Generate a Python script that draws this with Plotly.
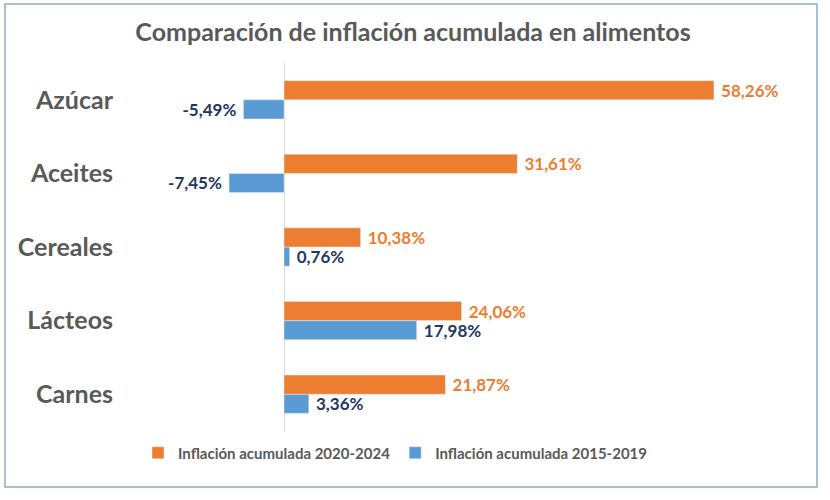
import plotly.graph_objects as go

categories = ["Carnes", "Lácteos", "Cereales", "Aceites", "Azúcar"]
inf_2020_2024 = [21.87, 24.06, 10.38, 31.61, 58.26]
inf_2015_2019 = [3.36, 17.98, 0.76, -7.45, -5.49]
series_names = ["Inflación acumulada 2020-2024", "Inflación acumulada 2015-2019"]
title_text = "Comparación de inflación acumulada en alimentos"

ORANGE = "#ED7D31"
BLUE = "#5B9BD5"
NAVY = "#1F3864"
GRAY = "#595959"
FONT = "Lato"

def fmt(v):
    s = f"{v:.2f}%".replace(".", ",")
    return (s + " ") if v < 0 else (" " + s)

fig = go.Figure()
fig.add_trace(go.Bar(
    y=categories, x=inf_2015_2019, orientation="h", name=series_names[1],
    marker=dict(color=BLUE), text=[fmt(v) for v in inf_2015_2019],
    textposition="outside", cliponaxis=False, constraintext="none",
    textfont=dict(family=FONT, size=17, color=NAVY, weight="bold"),
    legendrank=2, hoverinfo="skip",
))
fig.add_trace(go.Bar(
    y=categories, x=inf_2020_2024, orientation="h", name=series_names[0],
    marker=dict(color=ORANGE), text=[fmt(v) for v in inf_2020_2024],
    textposition="outside", cliponaxis=False, constraintext="none",
    textfont=dict(family=FONT, size=17, color=ORANGE, weight="bold"),
    legendrank=1, hoverinfo="skip",
))

L, R, T, B = 220, 40, 63, 69
W, H = 830, 500
pw, ph = W - L - R, H - T - B

fig.update_layout(
    width=W, height=H,
    margin=dict(l=L, r=R, t=T, b=B),
    paper_bgcolor="white", plot_bgcolor="white",
    barmode="group", bargap=0.48, bargroupgap=0,
    title=dict(text="<b>" + title_text + "</b>", x=413 / W, xref="container", xanchor="center",
               y=1 - 32 / H, yanchor="middle", yref="container",
               font=dict(family=FONT, size=25, color=GRAY)),
    font=dict(family=FONT),
    showlegend=True,
    legend=dict(orientation="h", x=(395 - L) / pw, xanchor="center", xref="paper",
                y=(H - B - 453) / ph, yanchor="middle",
                font=dict(family=FONT, size=15, color=GRAY, weight="bold"),
                itemwidth=30, traceorder="normal"),
    xaxis=dict(range=[(L - 284) / 7.38, (W - R - 284) / 7.38],
               showticklabels=False, showgrid=False, zeroline=True,
               zerolinecolor="#D9D9D9", zerolinewidth=1, fixedrange=True),
    yaxis=dict(showgrid=False, zeroline=False, ticks="", ticklabelstandoff=106,
               tickfont=dict(family=FONT, size=25, color=GRAY, weight="bold"),
               categoryorder="array", categoryarray=categories),
    shapes=[dict(type="rect", xref="paper", yref="paper",
                 x0=(5 - L) / pw, x1=(817 - L) / pw,
                 y0=(H - B - 487) / ph, y1=(H - B - 4) / ph,
                 line=dict(color="#8FAAC4", width=1.5), fillcolor="rgba(0,0,0,0)", layer="below")],
)

fig.write_html("out.html")
